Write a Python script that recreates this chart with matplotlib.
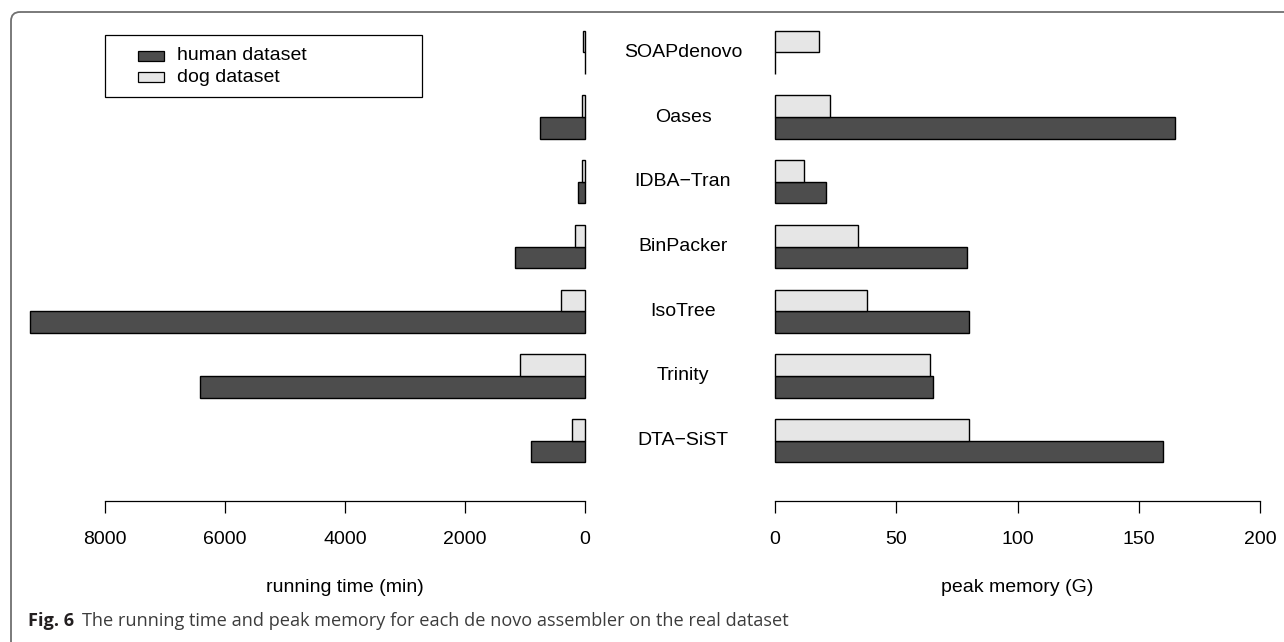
import matplotlib
matplotlib.use("Agg")
import matplotlib.pyplot as plt
import matplotlib.transforms as mtransforms
from matplotlib.patches import Rectangle, FancyBboxPatch
import numpy as np

# ---- data (bottom to top order as drawn) ----
assemblers = ["DTA\u2212SiST", "Trinity", "IsoTree", "BinPacker", "IDBA\u2212Tran", "Oases", "SOAPdenovo"]
time_human = [893, 6420, 9250, 1170, 120, 750, 0]
time_dog = [215, 1090, 400, 160, 50, 55, 40]
mem_human = [160, 65, 80, 79, 21, 165, 0]
mem_dog = [80, 64, 38, 34, 12, 22.5, 18]
series_names = ["human dataset", "dog dataset"]
time_ticks = [0, 2000, 4000, 6000, 8000]
mem_ticks = [0, 50, 100, 150, 200]
time_label = "running time (min)"
mem_label = "peak memory (G)"
caption_bold = "Fig. 6"
caption_text = "The running time and peak memory for each de novo assembler on the real dataset"

W, H = 1284, 642
DARK = "#4d4d4d"
LIGHT = "#e6e6e6"
FONT = "Liberation Sans"

fig = plt.figure(figsize=(W / 100, H / 100), dpi=100)
fig.patch.set_facecolor("white")

def fx(px):
    return px / W

def fy(py):
    return 1 - py / H

# vertical mapping: data y=0 at pixel 462.3, 21.58 px/unit
py0, ppu = 462.3, 21.58
ax_top, ax_bot = 20, 501
ylim = (-(ax_bot - py0) / ppu, (py0 - ax_top) / ppu)

# left axes: pixel 15..595, value 0 at pixel 585, 0.06 px/min
axL = fig.add_axes([fx(15), fy(ax_bot), fx(580), (ax_bot - ax_top) / H])
axL.set_xlim(570 / 0.06, -10 / 0.06)
# right axes: pixel 765..1275, value 0 at pixel 775, 2.4265 px/G
axR = fig.add_axes([fx(765), fy(ax_bot), fx(510), (ax_bot - ax_top) / H])
axR.set_xlim(-10 / 2.4265, 500 / 2.4265)

y = np.arange(len(assemblers)) * 3
for ax, hv, dv, ticks, lab in [(axL, time_human, time_dog, time_ticks, time_label),
                                 (axR, mem_human, mem_dog, mem_ticks, mem_label)]:
    ax.set_ylim(*ylim)
    ax.barh(y + 0.5, hv, height=1, color=DARK, edgecolor="black", linewidth=1.0)
    ax.barh(y + 1.5, dv, height=1, color=LIGHT, edgecolor="black", linewidth=1.0)
    for s in ["top", "left", "right"]:
        ax.spines[s].set_visible(False)
    ax.spines["bottom"].set_bounds(min(ticks), max(ticks))
    ax.spines["bottom"].set_linewidth(0.9)
    ax.set_yticks([])
    ax.set_xticks(ticks)
    ax.set_xticklabels([str(t) for t in ticks], fontfamily=FONT, fontsize=14)
    ax.tick_params(axis="x", direction="out", length=8.6, width=0.9, pad=13.3)
    ax.patch.set_alpha(0)

# center labels
trans = mtransforms.blended_transform_factory(fig.transFigure, axL.transData)
for yi, name in zip(y, assemblers):
    fig.text(fx(683), yi + 1, name, transform=trans, ha="center", va="center",
             fontfamily=FONT, fontsize=14)

# axis titles
fig.text(fx(345), fy(587), time_label, ha="center", va="center", fontfamily=FONT, fontsize=14)
fig.text(fx(1017.5), fy(587), mem_label, ha="center", va="center", fontfamily=FONT, fontsize=14)

# overlays for legend, border, caption (pixel coords)
ov = fig.add_axes([0, 0, 1, 1], zorder=-1)
ov.set_xlim(0, W)
ov.set_ylim(H, 0)
ov.axis("off")
ov2 = fig.add_axes([0, 0, 1, 1], zorder=5)
ov2.set_xlim(0, W)
ov2.set_ylim(H, 0)
ov2.axis("off")
ov2.patch.set_alpha(0)

ov.add_patch(FancyBboxPatch((11, 12), 1400, 800, boxstyle="round,pad=0,rounding_size=9",
                            facecolor="none", edgecolor="#707070", linewidth=1.3))

ov2.add_patch(Rectangle((105, 35), 317, 62, facecolor="white", edgecolor="black", linewidth=0.9))
for (yy, col, name) in [(56, DARK, series_names[0]), (77, LIGHT, series_names[1])]:
    ov2.add_patch(Rectangle((137.5, yy - 5.3), 26.5, 10.6, facecolor=col, edgecolor="black", linewidth=0.9))
    ov2.text(177, yy, name, ha="left", va="center", fontfamily=FONT, fontsize=14)

ov2.text(28, 626.5, caption_bold, ha="left", va="baseline", fontfamily="Open Sans",
         fontweight="bold", fontsize=13.1, color="#231f20")
ov2.text(82, 626.5, caption_text, ha="left", va="baseline", fontfamily="Open Sans",
         fontsize=13.1, color="#3c3c3c")

fig.savefig("out.png", dpi=100)
